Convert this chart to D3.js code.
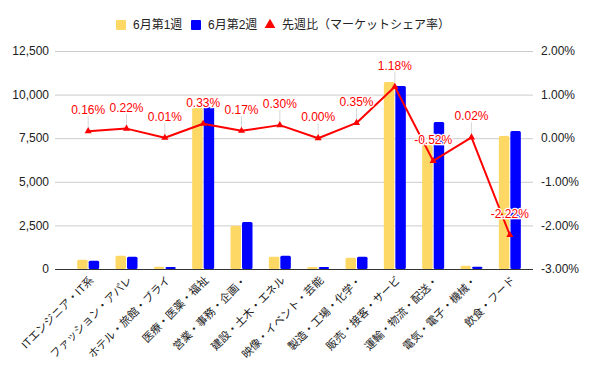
<!DOCTYPE html>
<html>
<head>
<meta charset="utf-8">
<script src="https://cdn.jsdelivr.net/npm/d3@7"></script>
<style>
  body { margin: 0; background: #fff; }
  svg { font-family: Arial, "Liberation Sans", "Noto Sans CJK JP", sans-serif; }
</style>
</head>
<body>
<svg id="chart"></svg>
<script>
// chart data
const categories = [
    "ITエンジニア・IT系", "ファッション・アパレ", "ホテル・旅館・ブライ", "医療・医薬・福祉",
    "営業・事務・企画・", "建設・土木・エネル", "映像・イベント・芸能", "製造・工場・化学・",
    "販売・接客・サービ", "運輸・物流・配送・", "電気・電子・機械・", "飲食・フード"
];
const week1 = [530, 765, 130, 9250, 2480, 705, 120, 650, 10720, 7110, 190, 7630];
const week2 = [480, 705, 120, 9290, 2690, 765, 120, 705, 10490, 8430, 130, 7910];
const shareChange = [0.16, 0.22, 0.01, 0.33, 0.17, 0.30, 0.00, 0.35, 1.18, -0.52, 0.02, -2.22];
const leftTicks = [0, 2500, 5000, 7500, 10000, 12500];
const rightTicks = [-3, -2, -1, 0, 1, 2];
const seriesNames = ["6月第1週", "6月第2週", "先週比（マーケットシェア率）"];

const colors = ["#fdd865", "#0000ff", "#ff0000"];

const width = 600, height = 371;
const svg = d3.select("#chart").attr("width", width).attr("height", height);

const gridLeft = 55, gridRight = 533;
const plotTop = 51, plotBottom = 269;

let x = d3.scaleBand().domain(categories).range([69, 529]);
let yL = d3.scaleLinear().domain([0, 12500]).range([plotBottom, plotTop]);
let yR = d3.scaleLinear().domain([-3, 2]).range([plotBottom, plotTop]);

// gridlines
svg.append("g").selectAll("line").data(leftTicks.slice(1)).enter().append("line")
    .attr("x1", gridLeft).attr("x2", gridRight)
    .attr("y1", d => yL(d) + 0.5).attr("y2", d => yL(d) + 0.5)
    .style("stroke", "#cccccc").style("stroke-width", 1);

// left axis labels
svg.append("g").selectAll("text").data(leftTicks).enter().append("text")
    .attr("x", 49).attr("y", d => yL(d))
    .attr("dy", "0.35em")
    .style("text-anchor", "end")
    .style("font-size", "12px")
    .style("fill", "#222")
    .text(d => d3.format(",")(d));

// right axis labels
svg.append("g").selectAll("text").data(rightTicks).enter().append("text")
    .attr("x", 541).attr("y", d => yR(d))
    .attr("dy", "0.35em")
    .style("text-anchor", "start")
    .style("font-size", "12px")
    .style("fill", "#222")
    .text(d => d.toFixed(2) + "%");

// bars
let inner = d3.scaleBand().domain([0, 1]).range([0, 22]).paddingInner(0.09);
let barGroups = svg.append("g").selectAll("g").data(categories).enter().append("g")
    .attr("transform", d => "translate(" + (x(d) + x.bandwidth() / 2 - 11) + ",0)");

barGroups.selectAll("rect")
    .data((d, i) => [week1[i], week2[i]])
    .enter().append("rect")
    .attr("x", (d, j) => inner(j))
    .attr("width", inner.bandwidth())
    .attr("y", d => yL(d))
    .attr("height", d => plotBottom - yL(d))
    .attr("rx", 1.5)
    .style("fill", (d, j) => colors[j]);

// baseline
svg.append("line")
    .attr("x1", gridLeft).attr("x2", gridRight)
    .attr("y1", plotBottom + 0.5).attr("y2", plotBottom + 0.5)
    .style("stroke", "#333").style("stroke-width", 1);

// line series
let cx = (d, i) => x(categories[i]) + x.bandwidth() / 2;
let line = d3.line().x(cx).y(d => yR(d));

// annotation stems
svg.append("g").selectAll("line").data(shareChange).enter().append("line")
    .attr("x1", cx).attr("x2", cx)
    .attr("y1", d => yR(d) - 3).attr("y2", d => yR(d) - 15)
    .style("stroke", "#d8d8d8").style("stroke-width", 1);

svg.append("path")
    .datum(shareChange)
    .attr("d", line)
    .style("fill", "none")
    .style("stroke", colors[2])
    .style("stroke-width", 2)
    .style("stroke-linejoin", "round");

let tri = d3.symbol().type(d3.symbolTriangle).size(22);
svg.append("g").selectAll("path").data(shareChange).enter().append("path")
    .attr("d", tri)
    .attr("transform", (d, i) => "translate(" + cx(d, i) + "," + yR(d) + ")")
    .style("fill", colors[2]);

// annotation labels
svg.append("g").selectAll("text").data(shareChange).enter().append("text")
    .attr("x", cx)
    .attr("y", d => yR(d) - 17)
    .style("text-anchor", "middle")
    .style("font-size", "12px")
    .style("fill", colors[2])
    .style("stroke", "#fff")
    .style("stroke-width", 2.5)
    .style("paint-order", "stroke")
    .text(d => d.toFixed(2) + "%");

// x axis labels
svg.append("g").selectAll("text").data(categories).enter().append("text")
    .attr("transform", d => "translate(" + (x(d) + x.bandwidth() / 2 + 6) + "," + 281 + ") rotate(-45)")
    .style("text-anchor", "end")
    .style("font-size", "11px")
    .style("fill", "#222")
    .text(d => d);

// legend
let legend = svg.append("g");
let legendX = [116, 191, 265];
seriesNames.forEach((name, i) => {
    if (i < 2) {
        legend.append("rect")
            .attr("x", legendX[i]).attr("y", 20)
            .attr("width", 10).attr("height", 10)
            .attr("rx", 1)
            .style("fill", colors[i]);
    } else {
        legend.append("path")
            .attr("d", d3.symbol().type(d3.symbolTriangle).size(50))
            .attr("transform", "translate(" + (legendX[i] + 5) + ",25)")
            .style("fill", colors[i]);
    }
    legend.append("text")
        .attr("x", legendX[i] + 17).attr("y", 25)
        .attr("dy", "0.35em")
        .style("font-size", "12px")
        .style("fill", "#222")
        .text(name);
});
</script>
</body>
</html>
